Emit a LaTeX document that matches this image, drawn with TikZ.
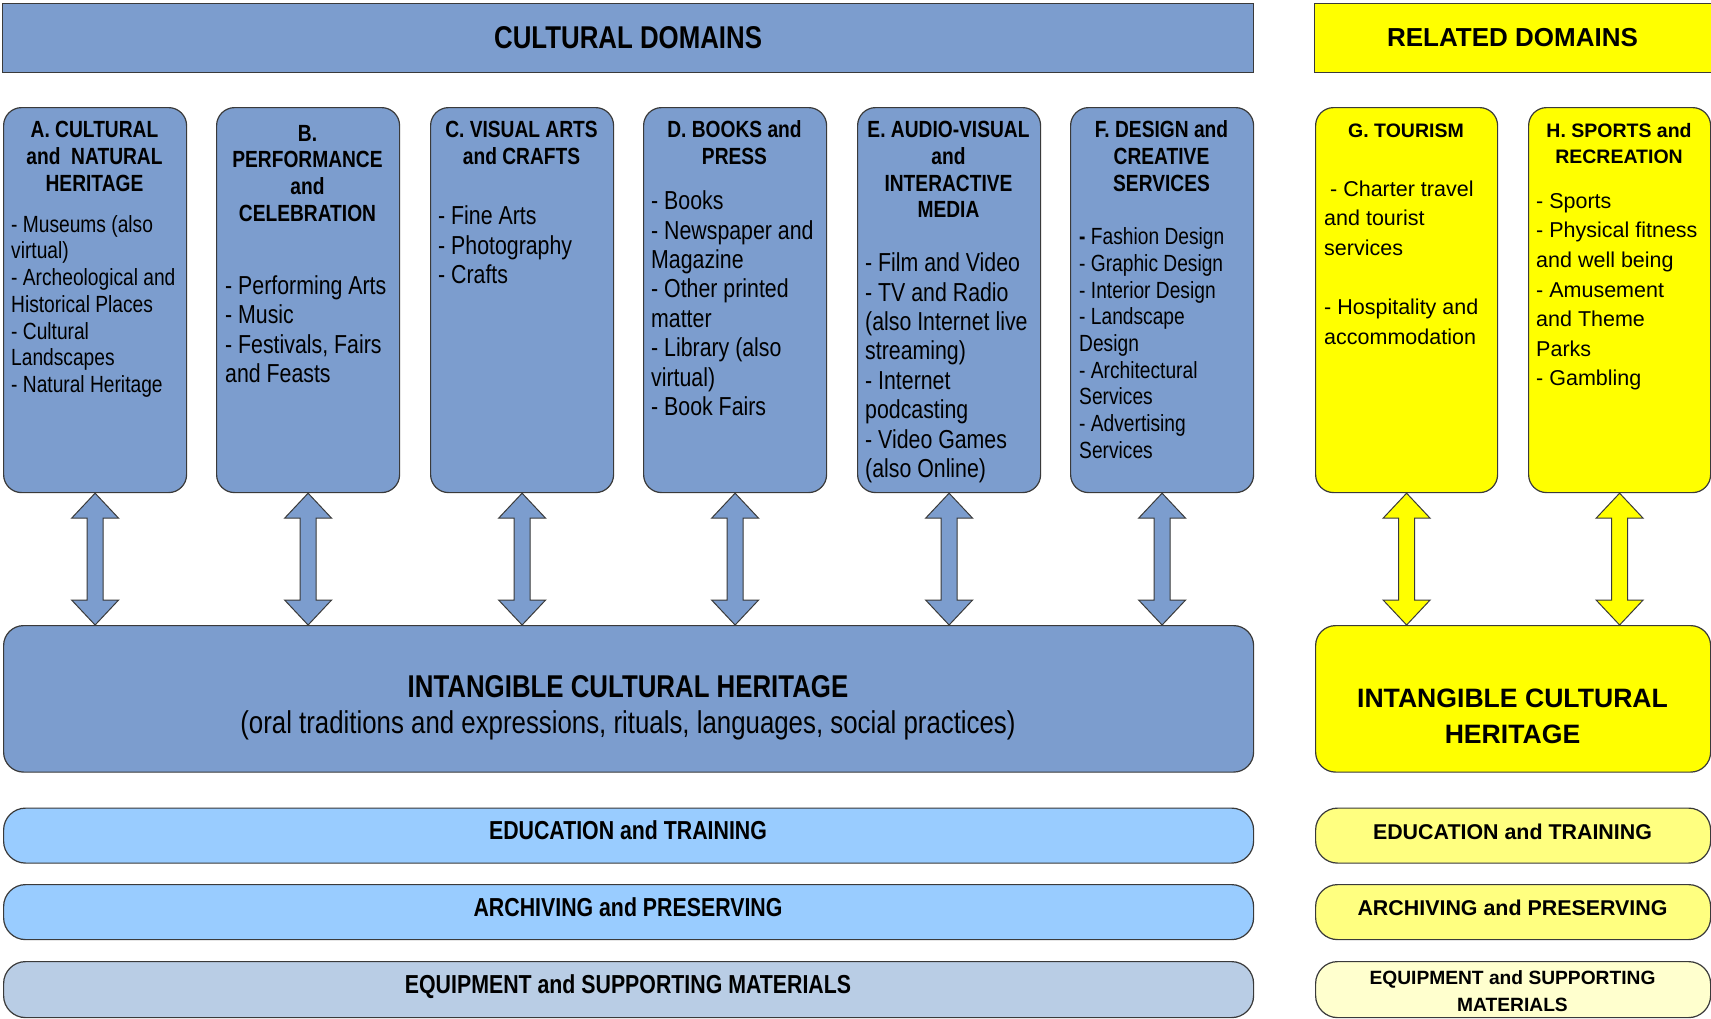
\documentclass[tikz,border=0pt]{standalone}
\usepackage{fontspec}
\setmainfont{Liberation Sans}
\newfontfamily\narrowfont[FakeStretch=0.82]{Liberation Sans}

\definecolor{cdblue}{RGB}{124,157,206}
\definecolor{cdline}{RGB}{58,58,58}
\definecolor{barblue}{RGB}{153,204,255}
\definecolor{eqblue}{RGB}{185,205,229}
\definecolor{rdyellow}{RGB}{255,255,0}
\definecolor{baryellow}{RGB}{255,255,128}
\definecolor{eqyellow}{RGB}{255,255,206}

% font size with fixed line pitch
\newcommand{\fsz}[2]{\fontsize{#1}{#2}\selectfont\lineskiplimit=-1000pt\relax}
% first-line strut: the text block's top lies exactly 1em above its first baseline
\newcommand{\topstrut}{\rule{0pt}{1em}}

% double-headed block arrow between two stacked nodes
\newcommand{\linkarrow}[3]{%
  \coordinate (#1-tip) at (#1.south);
  \coordinate (#1-end) at (#1.south |- #2.north);
  \draw[arrowline, fill=#3] (#1-tip) -- ([shift={(23.5,25)}]#1-tip) -- ([shift={(8,25)}]#1-tip)
    -- ([shift={(8,-25)}]#1-end) -- ([shift={(23.5,-25)}]#1-end) -- (#1-end)
    -- ([shift={(-23.5,-25)}]#1-end) -- ([shift={(-8,-25)}]#1-end)
    -- ([shift={(-8,25)}]#1-tip) -- ([shift={(-23.5,25)}]#1-tip) -- cycle;
}

\tikzset{
  outline/.style={draw=cdline, line width=1.2pt},
  arrowline/.style={draw=cdline, line width=1pt, line join=miter},
  titlebar/.style={outline, anchor=north west, inner sep=0pt, minimum height=69pt},
  domainbox/.style={outline, rounded corners=18pt, anchor=north west, inner sep=0pt,
    minimum width=183pt, minimum height=385pt},
  ichbox/.style={outline, rounded corners=20pt, anchor=north west, inner sep=0pt, minimum height=146.5pt},
  bar/.style={outline, rounded corners=22pt, anchor=north west, inner sep=0pt},
  headN/.style={anchor=north, inner sep=0pt, align=center,
    font=\narrowfont\bfseries\fsz{23.4pt}{26.7pt}},
  itemsS/.style={anchor=north west, inner sep=0pt, align=left,
    font=\narrowfont\fsz{23.4pt}{26.7pt}},
  itemsL/.style={anchor=north west, inner sep=0pt, align=left,
    font=\narrowfont\fsz{26pt}{29.4pt}},
  headR/.style={anchor=north, inner sep=0pt, align=center,
    font=\bfseries\fsz{19.5pt}{26pt}},
  itemsR/.style={anchor=north west, inner sep=0pt, align=left,
    font=\fsz{21.5pt}{29.6pt}},
  barN/.style={anchor=base, inner sep=0pt, font=\narrowfont\bfseries\fsz{26pt}{30pt}},
  barR/.style={anchor=base, inner sep=0pt, font=\bfseries\fsz{21.4pt}{26pt}},
}

\begin{document}
\begin{tikzpicture}[x=1pt, y=-1pt]
\useasboundingbox (0,0) rectangle (1711,1018);
\fill[white] (0,0) rectangle (1711,1018);

% ---------- headers ----------
\node[titlebar, fill=cdblue, minimum width=1251pt] (cult) at (2,3) {};
\node[font=\narrowfont\bfseries\fsz{31.5pt}{34pt}] (cultT) at (cult.center) {CULTURAL DOMAINS};
\node[titlebar, fill=rdyellow, minimum width=397pt] (rel) at (1314,3) {};
\node[font=\bfseries\fsz{26pt}{30pt}] (relT) at (1512.5,37.5) {RELATED DOMAINS};

% ---------- domain boxes ----------
\node[domainbox, fill=cdblue] (A) at (3,107) {};
\node[domainbox, fill=cdblue] (B) at (216,107) {};
\node[domainbox, fill=cdblue] (C) at (430,107) {};
\node[domainbox, fill=cdblue] (D) at (643,107) {};
\node[domainbox, fill=cdblue] (E) at (857,107) {};
\node[domainbox, fill=cdblue] (F) at (1070,107) {};
\node[domainbox, fill=rdyellow, minimum width=182pt] (G) at (1315,107) {};
\node[domainbox, fill=rdyellow, minimum width=182pt] (H) at (1528,107) {};

% box texts
\node[headN] (Ah) at (94.5,114.1) {\topstrut A. CULTURAL\\and\ \ NATURAL\\HERITAGE};
\node[itemsS] (Ai) at (11,208.6) {\topstrut - Museums (also\\virtual)\\- Archeological and\\Historical Places\\- Cultural\\Landscapes\\- Natural Heritage};

\node[headN] (Bh) at (307.5,117.6) {\topstrut B.\\PERFORMANCE\\and\\CELEBRATION};
\node[itemsL] (Bi) at (225,268) {\topstrut - Performing Arts\\- Music\\- Festivals, Fairs\\and Feasts};

\node[headN] (Ch) at (521.5,114.1) {\topstrut C. VISUAL ARTS\\and CRAFTS};
\node[itemsL] (Ci) at (438,198.5) {\topstrut - Fine Arts\\- Photography\\- Crafts};

\node[headN] (Dh) at (734.5,114.1) {\topstrut D. BOOKS and\\PRESS};
\node[itemsL] (Di) at (651,183.5) {\topstrut - Books\\- Newspaper and\\Magazine\\- Other printed\\matter\\- Library (also\\virtual)\\- Book Fairs};

\node[headN] (Eh) at (948.5,114.1) {\topstrut E. AUDIO-VISUAL\\and\\INTERACTIVE\\MEDIA};
\node[itemsL] (Ei) at (865,245.5) {\topstrut - Film and Video\\- TV and Radio\\(also Internet live\\streaming)\\- Internet\\podcasting\\- Video Games\\(also Online)};

\node[headN] (Fh) at (1161.5,114.1) {\topstrut F. DESIGN and\\CREATIVE\\SERVICES};
\node[itemsS] (Fi) at (1079,221.1) {\topstrut {\bfseries -} Fashion Design\\- Graphic Design\\- Interior Design\\- Landscape\\Design\\- Architectural\\Services\\- Advertising\\Services};

\node[headR] (Gh) at (1406,117.5) {\topstrut G. TOURISM};
\node[itemsR] (Gi) at (1324,174.5) {\topstrut\ - Charter travel\\and tourist\\services\\[29.6pt]- Hospitality and\\accommodation};

\node[headR] (Hh) at (1619,117.5) {\topstrut H. SPORTS and\\RECREATION};
\node[itemsR] (Hi) at (1536,186.5) {\topstrut - Sports\\- Physical fitness\\and well being\\- Amusement\\and Theme\\Parks\\- Gambling};

% ---------- intangible heritage ----------
\node[ichbox, fill=cdblue, minimum width=1250pt] (ich) at (3,625) {};
\node[anchor=north, inner sep=0pt, align=center, font=\narrowfont\fsz{31.5pt}{36.5pt}] (ichT) at (628,665.5)
  {\topstrut\textbf{INTANGIBLE CULTURAL HERITAGE}\\(oral traditions and expressions, rituals, languages, social practices)};
\node[ichbox, fill=rdyellow, minimum width=395pt] (ichR) at (1315,625) {};
\node[anchor=north, inner sep=0pt, align=center, font=\bfseries\fsz{26.6pt}{36pt}] (ichRT) at (1512.5,680.4)
  {\topstrut INTANGIBLE CULTURAL\\HERITAGE};

% ---------- arrows ----------
\linkarrow{A}{ich}{cdblue}
\linkarrow{B}{ich}{cdblue}
\linkarrow{C}{ich}{cdblue}
\linkarrow{D}{ich}{cdblue}
\linkarrow{E}{ich}{cdblue}
\linkarrow{F}{ich}{cdblue}
\linkarrow{G}{ichR}{rdyellow}
\linkarrow{H}{ichR}{rdyellow}

% ---------- bottom bars ----------
\node[bar, fill=barblue, minimum width=1250pt, minimum height=55pt] (eduL) at (3,807.5) {};
\node[barN] (eduLT) at (628,839.8) {EDUCATION and TRAINING};
\node[bar, fill=barblue, minimum width=1250pt, minimum height=55pt] (arcL) at (3,884) {};
\node[barN] (arcLT) at (628,916.5) {ARCHIVING and PRESERVING};
\node[bar, fill=eqblue, minimum width=1250pt, minimum height=56pt] (eqL) at (3,961) {};
\node[barN] (eqLT) at (628,993.5) {EQUIPMENT and SUPPORTING MATERIALS};

\node[bar, fill=baryellow, minimum width=395pt, minimum height=55pt] (eduR) at (1315,807.5) {};
\node[barR] (eduRT) at (1512.5,839) {EDUCATION and TRAINING};
\node[bar, fill=baryellow, minimum width=395pt, minimum height=55pt] (arcR) at (1315,884) {};
\node[barR] (arcRT) at (1512.5,915.5) {ARCHIVING and PRESERVING};
\node[bar, fill=eqyellow, minimum width=395pt, minimum height=56pt] (eqR) at (1315,961) {};
\node[anchor=north, inner sep=0pt, align=center, font=\bfseries\fsz{19.2pt}{27.7pt}] (eqRT) at (1512.5,964.8)
  {\topstrut EQUIPMENT and SUPPORTING\\MATERIALS};
\end{tikzpicture}
\end{document}
